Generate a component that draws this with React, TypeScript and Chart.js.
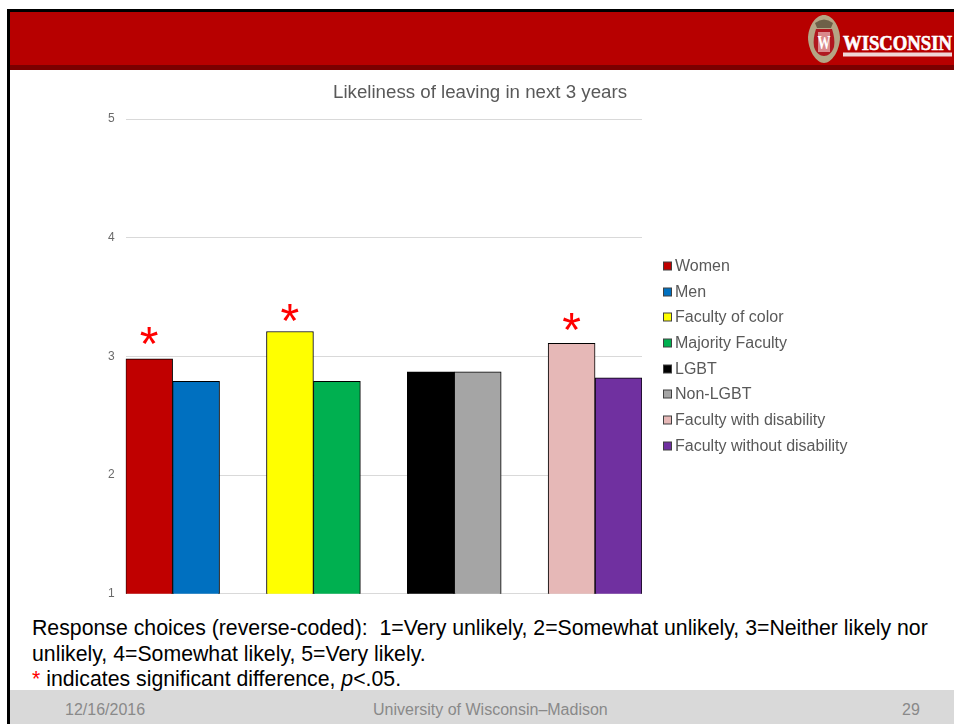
import React, { useEffect, useRef } from "react";
import { Chart, registerables } from "chart.js";

Chart.register(...registerables);

const FONT = '"Liberation Sans", Arial, sans-serif';
const SERIF = '"Liberation Serif", "Times New Roman", serif';

const chartTitle = "Likeliness of leaving in next 3 years";
const categories = [
  "Women", "Men", "",
  "Faculty of color", "Majority Faculty", "",
  "LGBT", "Non-LGBT", "",
  "Faculty with disability", "Faculty without disability",
];
const values = [2.98, 2.79, null, 3.21, 2.79, null, 2.87, 2.87, null, 3.11, 2.82];
const colors = [
  "#C00000", "#0070C0", "#FFFFFF",
  "#FFFF00", "#00B050", "#FFFFFF",
  "#000000", "#A5A5A5", "#FFFFFF",
  "#E6B8B7", "#7030A0",
];
const significant = ["Women", "Faculty of color", "Faculty with disability"];
const asteriskLift = [-1, -6, -3];
const yTicks = [1, 2, 3, 4, 5];

// Red asterisks above the bars whose group difference is significant.
const asteriskPlugin = {
  id: "asterisks",
  afterDatasetsDraw(chart: any) {
    const { ctx, scales } = chart;
    ctx.save();
    ctx.fillStyle = "#FF0000";
    ctx.font = `48px ${FONT}`;
    ctx.textAlign = "center";
    ctx.textBaseline = "alphabetic";
    significant.forEach((name, n) => {
      const i = categories.indexOf(name);
      const x = scales.x.getPixelForValue(i);
      const y = scales.y.getPixelForValue(values[i] as number);
      ctx.fillText("*", x, y - asteriskLift[n]);
    });
    ctx.restore();
  },
};

// Title centred on the whole chart object, and the key to the right of the
// plot: small outlined swatch with its label close beside it.
const framePlugin = {
  id: "frameText",
  afterDraw(chart: any) {
    const { ctx, chartArea, width } = chart;
    ctx.save();
    ctx.font = `18.7px ${FONT}`;
    ctx.textBaseline = "middle";
    ctx.textAlign = "center";
    ctx.fillStyle = "#595959";
    ctx.fillText(chartTitle, width / 2, 18);

    const left = chartArea.right + 21.5;
    const firstRow = 190.8;
    const rowStep = 25.72;
    ctx.font = `16px ${FONT}`;
    ctx.textAlign = "left";
    categories
      .map((text, i) => ({ text, color: colors[i] }))
      .filter((item) => item.text !== "")
      .forEach((item, row) => {
        const y = Math.round(firstRow + row * rowStep);
        ctx.fillStyle = item.color;
        ctx.strokeStyle = "#404040";
        ctx.lineWidth = 1;
        ctx.fillRect(left, y - 4, 8, 8);
        ctx.strokeRect(left, y - 4, 8, 8);
        ctx.fillStyle = "#595959";
        ctx.fillText(item.text, left + 11.5, y + 1);
      });
    ctx.restore();
  },
};

function SlideChart() {
  const ref = useRef<HTMLCanvasElement>(null);
  useEffect(() => {
    const chart = new Chart(ref.current!, {
      type: "bar",
      plugins: [asteriskPlugin, framePlugin],
      data: {
        labels: categories,
        datasets: [
          {
            data: values,
            backgroundColor: colors,
            borderColor: "#000000",
            borderWidth: 1,
            barPercentage: 1,
            categoryPercentage: 1,
          },
        ],
      },
      options: {
        animation: false,
        responsive: false,
        layout: { padding: { left: 37, right: 258, top: 44, bottom: 0 } },
        plugins: {
          tooltip: { enabled: false },
          legend: { display: false },
          title: { display: false },
        },
        scales: {
          x: { display: false },
          y: {
            min: 1,
            max: 5,
            grid: { color: "#D9D9D9", drawTicks: false },
            border: { display: false },
            afterBuildTicks: (axis: any) => {
              axis.ticks = yTicks.map((value) => ({ value }));
            },
            ticks: {
              color: "#6A6A6A",
              padding: 11,
              font: { family: FONT, size: 12 },
            },
          },
        },
      },
    });
    return () => chart.destroy();
  }, []);
  return (
    <canvas
      ref={ref}
      width={840}
      height={537}
      style={{ position: "absolute", left: 60, top: 75 }}
    />
  );
}

function Crest() {
  return (
    <svg
      width={150}
      height={56}
      style={{ position: "absolute", left: 804, top: 11 }}
      viewBox="0 0 150 56"
    >
      <path
        d="M20 4 C28 4 35 14 36 26 C36 39 28 52 20 52 C12 52 4 39 4 26 C5 14 12 4 20 4 Z"
        fill="#B5A585"
      />
      <path d="M11 12 Q20 5 29 12 L27 17 L13 17 Z" fill="#6E6048" />
      <path
        d="M12 18 H28 C30 24 31 30 30 36 C28 42 24 45 20 45 C16 45 12 42 10 36 C9 30 10 24 12 18 Z"
        fill="#B01820"
      />
      <rect x={14} y={21} width={12} height={20} fill="#D98A8C" />
      <text x={20} y={38} textAnchor="middle" fill="#FFFFFF" fontFamily={SERIF} fontWeight="bold" fontSize={18} textLength={13} lengthAdjust="spacingAndGlyphs">
        W
      </text>
      <text
        x={39}
        y={39}
        fill="#FFFFFF"
        stroke="#FFFFFF"
        strokeWidth={0.6}
        fontFamily={SERIF}
        fontWeight="bold"
        fontSize={21}
        textLength={109}
        lengthAdjust="spacingAndGlyphs"
      >
        WISCONSIN
      </text>
      <rect x={39} y={41.5} width={109} height={4} fill="#EFD6D6" />
    </svg>
  );
}

export default function App() {
  const text: React.CSSProperties = {
    position: "absolute",
    fontFamily: FONT,
    whiteSpace: "pre",
  };
  return (
    <div style={{ position: "absolute", left: 0, top: 0, width: 954, height: 724, background: "#FFFFFF", overflow: "hidden" }}>
      <div style={{ position: "absolute", left: 7, top: 9, right: 0, height: 3, background: "#000000" }} />
      <div style={{ position: "absolute", left: 7, top: 9, bottom: 0, width: 3, background: "#000000" }} />
      <div style={{ position: "absolute", left: 10, top: 12, right: 0, height: 53, background: "#B70000" }} />
      <div style={{ position: "absolute", left: 10, top: 65, right: 0, height: 5, background: "#7A0000" }} />
      <Crest />
      <SlideChart />
      <div style={{ position: "absolute", left: 10, top: 690, right: 0, bottom: 0, background: "#D9D9D9" }} />
      <div style={{ ...text, left: 32, top: 616, fontSize: 21.27, lineHeight: "25.6px", color: "#000000" }}>
        {"Response choices (reverse-coded):  1=Very unlikely, 2=Somewhat unlikely, 3=Neither likely nor\nunlikely, 4=Somewhat likely, 5=Very likely.\n"}
        <span style={{ color: "#FF0000" }}>*</span>
        {" indicates significant difference, "}
        <i>p</i>
        {"<.05."}
      </div>
      <div style={{ ...text, left: 65, top: 701, fontSize: 16, color: "#898989" }}>12/16/2016</div>
      <div style={{ ...text, left: 373, top: 701, fontSize: 16, color: "#898989" }}>University of Wisconsin–Madison</div>
      <div style={{ ...text, left: 902, top: 701, fontSize: 16, color: "#898989" }}>29</div>
    </div>
  );
}
